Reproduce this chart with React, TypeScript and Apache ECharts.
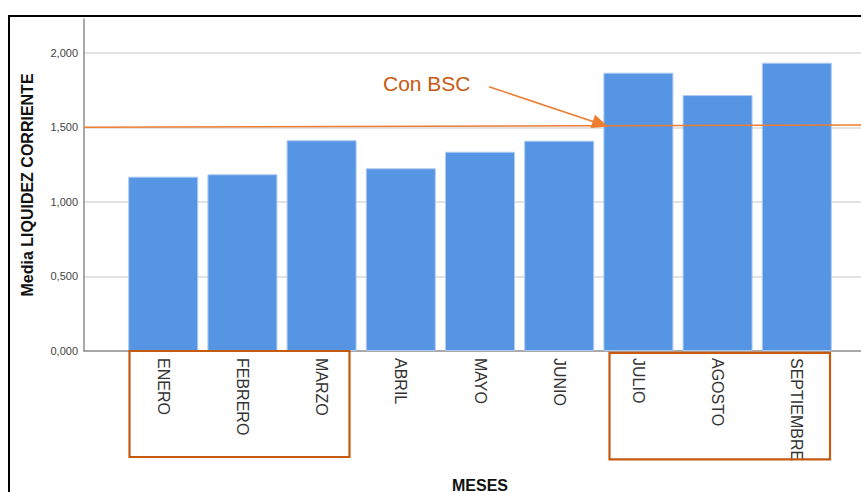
import React, { useEffect, useRef } from "react";
import * as echarts from "echarts";

// Monthly mean of the current-liquidity ratio
const months = [
  "ENERO",
  "FEBRERO",
  "MARZO",
  "ABRIL",
  "MAYO",
  "JUNIO",
  "JULIO",
  "AGOSTO",
  "SEPTIEMBRE",
];
const liquidez = [1.169, 1.185, 1.413, 1.225, 1.336, 1.41, 1.866, 1.716, 1.933];

// Reference level and annotation arrow (in axis units)
const bscLevel = [
  [-1, 1.5],
  [9, 1.516],
];
const bscArrow = [
  [4.114, 1.772],
  [5.52, 1.522],
];

const FONT = "'Liberation Sans', Arial, sans-serif";
const ORANGE = "#ED7D31";
const DARK_ORANGE = "#C55A11";

const fmt = (v: number) => v.toFixed(3).replace(".", ",");

export default function App() {
  const ref = useRef<HTMLDivElement>(null);

  useEffect(() => {
    if (!ref.current) return;
    const chart = echarts.init(ref.current, undefined, { renderer: "svg" });
    chart.setOption({
      animation: false,
      backgroundColor: "#fff",
      textStyle: { fontFamily: FONT },
      grid: {
        left: 84,
        top: 19,
        width: 792,
        height: 332,
        containLabel: false,
        outerBoundsMode: "none",
      },
      xAxis: {
        type: "value",
        min: -1,
        max: 9,
        interval: 1,
        axisLine: {
          show: true,
          onZero: false,
          lineStyle: { color: "#8c8c8c", width: 1.5 },
        },
        axisTick: { show: false },
        splitLine: { show: false },
        axisLabel: {
          rotate: -90,
          margin: 7,
          fontSize: 16,
          color: "#333",
          fontFamily: FONT,
          showMinLabel: true,
          showMaxLabel: true,
          formatter: (v: number) => months[v] ?? "",
        },
        name: "MESES",
        nameLocation: "middle",
        nameGap: 126,
        nameTextStyle: {
          fontSize: 16,
          fontWeight: "bold",
          color: "#111",
          fontFamily: FONT,
        },
      },
      yAxis: {
        type: "value",
        min: 0,
        max: 2.226,
        interval: 0.5,
        axisLine: {
          show: true,
          onZero: false,
          lineStyle: { color: "#8c8c8c", width: 1.5 },
        },
        axisTick: { show: false },
        splitLine: {
          show: true,
          showMinLine: false,
          showMaxLine: false,
          lineStyle: { color: "#d9d9d9", width: 1.5 },
        },
        axisLabel: {
          margin: 6,
          fontSize: 11,
          color: "#444",
          fontFamily: FONT,
          showMaxLabel: false,
          formatter: (v: number) => fmt(v),
        },
        name: "Media LIQUIDEZ CORRIENTE",
        nameLocation: "middle",
        nameRotate: 90,
        nameGap: 49,
        nameTextStyle: {
          fontSize: 16,
          fontWeight: "bold",
          color: "#111",
          fontFamily: FONT,
        },
      },
      series: [
        {
          type: "bar",
          data: months.map((_, i) => [i, liquidez[i]]),
          barWidth: 70,
          z: 2,
          itemStyle: {
            color: "#5595E3",
            borderColor: "#AECBF1",
            borderWidth: 1,
          },
        },
        {
          type: "line",
          data: [],
          z: 5,
          markLine: {
            silent: true,
            z: 5,
            label: { show: false },
            data: [
              [
                { coord: bscLevel[0], symbol: "none" },
                { coord: bscLevel[1], symbol: "none" },
              ],
              [
                { coord: bscArrow[0], symbol: "none" },
                { coord: bscArrow[1], symbol: "triangle", symbolSize: [14, 16] },
              ],
            ],
            lineStyle: { color: ORANGE, width: 1.6, type: "solid" },
            itemStyle: { color: ORANGE },
          },
        },
      ],
      graphic: [
        {
          type: "rect",
          shape: { x: 9, y: 16, width: 900, height: 600 },
          style: { fill: "none", stroke: "#000", lineWidth: 2 },
          z: 10,
        },
        {
          type: "rect",
          shape: { x: 129.5, y: 351, width: 220, height: 106 },
          style: { fill: "none", stroke: DARK_ORANGE, lineWidth: 2.2 },
          z: 10,
        },
        {
          type: "rect",
          shape: { x: 609.5, y: 352.8, width: 220.5, height: 106.5 },
          style: { fill: "none", stroke: DARK_ORANGE, lineWidth: 2.2 },
          z: 10,
        },
        {
          type: "text",
          x: 383,
          y: 83,
          style: {
            text: "Con BSC",
            fontSize: 21,
            fontFamily: FONT,
            fill: DARK_ORANGE,
            verticalAlign: "middle",
            align: "left",
          },
          z: 10,
        },
      ],
    });
    return () => chart.dispose();
  }, []);

  return (
    <div
      ref={ref}
      style={{
        position: "fixed",
        left: 0,
        top: 0,
        width: 861,
        height: 492,
        background: "#fff",
      }}
    />
  );
}
